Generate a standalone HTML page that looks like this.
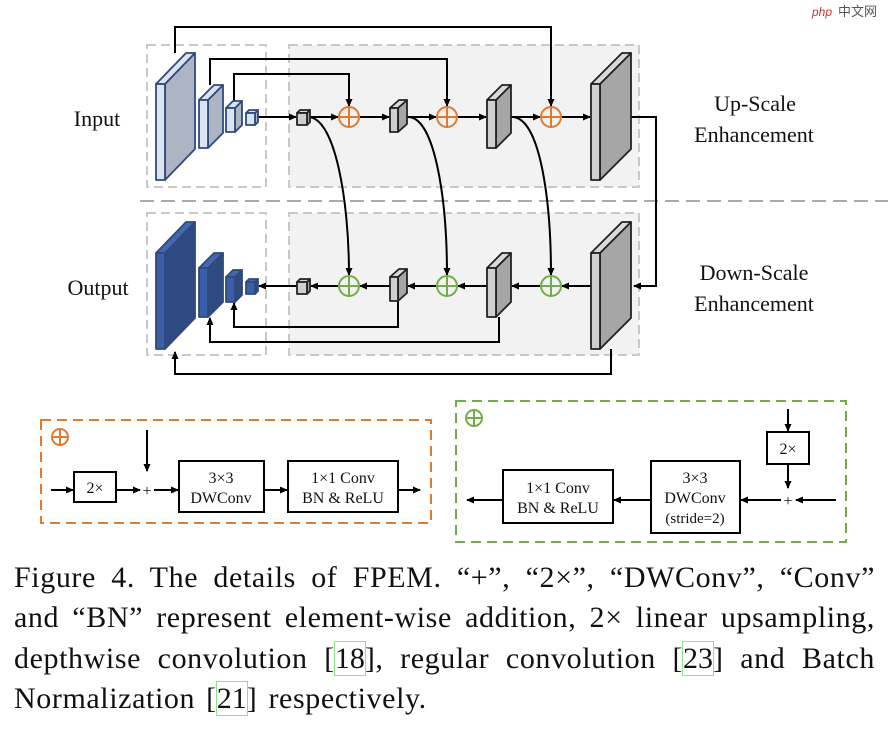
<!DOCTYPE html>
<html><head><meta charset="utf-8"><style>
body{margin:0;background:#fff;width:888px;height:730px;overflow:hidden;position:relative;font-family:"Liberation Serif",serif}
svg{position:absolute;left:0;top:0}
.cap{position:absolute;left:14px;width:861px;font-size:30px;letter-spacing:0.6px;word-spacing:3px;line-height:30px;color:#111;text-align:justify;text-align-last:justify;white-space:nowrap}
.c{outline:1px solid #8fe08f;letter-spacing:0}
</style></head><body>
<svg width="888" height="730" viewBox="0 0 888 730" font-family="Liberation Serif, serif">
<defs>
<marker id="a" markerWidth="8" markerHeight="8" refX="7" refY="4" orient="auto" markerUnits="userSpaceOnUse"><path d="M0,0.5 L8,4 L0,7.5z" fill="#000"/></marker>
</defs>
<rect x="147" y="45" width="119" height="142" fill="none" stroke="#c8c8c8" stroke-width="2" stroke-dasharray="9,5"/>
<rect x="289" y="45" width="350" height="142" fill="#f2f2f2" stroke="#c8c8c8" stroke-width="2" stroke-dasharray="9,5"/>
<rect x="147" y="213" width="119" height="142" fill="none" stroke="#c8c8c8" stroke-width="2" stroke-dasharray="9,5"/>
<rect x="289" y="213" width="350" height="142" fill="#f2f2f2" stroke="#c8c8c8" stroke-width="2" stroke-dasharray="9,5"/>
<line x1="140" y1="201" x2="888" y2="201" stroke="#aaa" stroke-width="2" stroke-dasharray="14,7"/>

<g stroke="#000" stroke-width="2" fill="none">
<polyline points="175,53 175,27 551,27 551,106" marker-end="url(#a)"/>
<polyline points="210,85 210,59 447,59 447,106" marker-end="url(#a)"/>
<polyline points="234,101 234,74 349,74 349,106" marker-end="url(#a)"/>
<line x1="258" y1="117" x2="296" y2="117" marker-end="url(#a)"/>
<line x1="308" y1="117" x2="338" y2="117" marker-end="url(#a)"/>
<line x1="360" y1="117" x2="389" y2="117" marker-end="url(#a)"/>
<line x1="407" y1="117" x2="436" y2="117" marker-end="url(#a)"/>
<line x1="458" y1="117" x2="486" y2="117" marker-end="url(#a)"/>
<line x1="511" y1="117" x2="540" y2="117" marker-end="url(#a)"/>
<line x1="562" y1="117" x2="590" y2="117" marker-end="url(#a)"/>
<polyline points="631,117 656,117 656,286 634,286" marker-end="url(#a)"/>
<path d="M308,117 C335,117 349,200 349,275" marker-end="url(#a)"/>
<path d="M408,117 C435,117 447,200 447,275" marker-end="url(#a)"/>
<path d="M512,117 C540,117 551,200 551,275" marker-end="url(#a)"/>
<line x1="591" y1="286" x2="562" y2="286" marker-end="url(#a)"/>
<line x1="540" y1="286" x2="512" y2="286" marker-end="url(#a)"/>
<line x1="487" y1="286" x2="458" y2="286" marker-end="url(#a)"/>
<line x1="436" y1="286" x2="408" y2="286" marker-end="url(#a)"/>
<line x1="390" y1="286" x2="360" y2="286" marker-end="url(#a)"/>
<line x1="338" y1="286" x2="311" y2="286" marker-end="url(#a)"/>
<line x1="297" y1="286" x2="259" y2="286" marker-end="url(#a)"/>
<polyline points="398,301 398,327 234,327 234,303" marker-end="url(#a)"/>
<polyline points="499,317 499,342 210,342 210,318" marker-end="url(#a)"/>
<polyline points="611,349 611,374 175,374 175,352" marker-end="url(#a)"/>
</g>

<g stroke-width="1.8" stroke-linejoin="round">
<g stroke="#2e4a7a">
<path d="M165,84 L195,53 L195,149 L165,180z" fill="#adb5c4"/><path d="M156,84 L186,53 L195,53 L165,84z" fill="#dbe3f1"/><rect x="156" y="84" width="9" height="96" fill="#dbe3f1"/>
<path d="M208,100 L223,85 L223,133 L208,148z" fill="#adb5c4"/><path d="M199,100 L214,85 L223,85 L208,100z" fill="#dbe3f1"/><rect x="199" y="100" width="9" height="48" fill="#dbe3f1"/>
<path d="M235,108 L242,101 L242,125 L235,132z" fill="#adb5c4"/><path d="M226,108 L233,101 L242,101 L235,108z" fill="#dbe3f1"/><rect x="226" y="108" width="9" height="24" fill="#dbe3f1"/>
<path d="M255,113 L258,110 L258,122 L255,125z" fill="#adb5c4"/><path d="M246,113 L249,110 L258,110 L255,113z" fill="#dbe3f1"/><rect x="246" y="113" width="9" height="12" fill="#dbe3f1"/>
</g>
<g stroke="#2e4a7a">
<path d="M165,253 L195,222 L195,318 L165,349z" fill="#2f4a82"/><path d="M156,253 L186,222 L195,222 L165,253z" fill="#4566b0"/><rect x="156" y="253" width="9" height="96" fill="#3c5ea8"/>
<path d="M208,268 L223,253 L223,302 L208,317z" fill="#2f4a82"/><path d="M199,268 L214,253 L223,253 L208,268z" fill="#4566b0"/><rect x="199" y="268" width="9" height="49" fill="#3c5ea8"/>
<path d="M235,277 L242,270 L242,295 L235,302z" fill="#2f4a82"/><path d="M226,277 L233,270 L242,270 L235,277z" fill="#4566b0"/><rect x="226" y="277" width="9" height="25" fill="#3c5ea8"/>
<path d="M255,282 L258,279 L258,291 L255,294z" fill="#2f4a82"/><path d="M246,282 L249,279 L258,279 L255,282z" fill="#4566b0"/><rect x="246" y="282" width="9" height="12" fill="#3c5ea8"/>
</g>
<g stroke="#222">
<path d="M307,113 L310,110 L310,122 L307,125z" fill="#a6a6a6"/><path d="M297,113 L300,110 L310,110 L307,113z" fill="#d9d9d9"/><rect x="297" y="113" width="10" height="12" fill="#cfcfcf"/>
<path d="M398,108 L407,100 L407,124 L398,132z" fill="#a6a6a6"/><path d="M390,108 L399,100 L407,100 L398,108z" fill="#d9d9d9"/><rect x="390" y="108" width="8" height="24" fill="#cfcfcf"/>
<path d="M496,100 L511,85 L511,133 L496,148z" fill="#a6a6a6"/><path d="M487,100 L502,85 L511,85 L496,100z" fill="#d9d9d9"/><rect x="487" y="100" width="9" height="48" fill="#cfcfcf"/>
<path d="M600,84 L631,53 L631,149 L600,180z" fill="#a6a6a6"/><path d="M591,84 L622,53 L631,53 L600,84z" fill="#d9d9d9"/><rect x="591" y="84" width="9" height="96" fill="#cfcfcf"/>
<path d="M307,282 L310,279 L310,291 L307,294z" fill="#a6a6a6"/><path d="M297,282 L300,279 L310,279 L307,282z" fill="#d9d9d9"/><rect x="297" y="282" width="10" height="12" fill="#cfcfcf"/>
<path d="M398,277 L407,269 L407,293 L398,301z" fill="#a6a6a6"/><path d="M390,277 L399,269 L407,269 L398,277z" fill="#d9d9d9"/><rect x="390" y="277" width="8" height="24" fill="#cfcfcf"/>
<path d="M496,268 L511,253 L511,302 L496,317z" fill="#a6a6a6"/><path d="M487,268 L502,253 L511,253 L496,268z" fill="#d9d9d9"/><rect x="487" y="268" width="9" height="49" fill="#cfcfcf"/>
<path d="M600,253 L631,222 L631,318 L600,349z" fill="#a6a6a6"/><path d="M591,253 L622,222 L631,222 L600,253z" fill="#d9d9d9"/><rect x="591" y="253" width="9" height="96" fill="#cfcfcf"/>
</g>
</g>
<g fill="none" stroke-width="2">
<g stroke="#e07a30">
<circle cx="349" cy="117" r="10"/><path d="M339,117h20M349,107v20"/>
<circle cx="447" cy="117" r="10"/><path d="M437,117h20M447,107v20"/>
<circle cx="551" cy="117" r="10"/><path d="M541,117h20M551,107v20"/>
</g>
<g stroke="#70ad47">
<circle cx="349" cy="286" r="10"/><path d="M339,286h20M349,276v20"/>
<circle cx="447" cy="286" r="10"/><path d="M437,286h20M447,276v20"/>
<circle cx="551" cy="286" r="10"/><path d="M541,286h20M551,276v20"/>
</g>
</g>
<g font-size="22" fill="#111" text-anchor="middle">
<text x="97" y="126">Input</text>
<text x="98" y="295">Output</text>
<text x="755" y="111">Up-Scale</text>
<text x="754" y="142">Enhancement</text>
<text x="754" y="280">Down-Scale</text>
<text x="754" y="311">Enhancement</text>
</g>

<rect x="41" y="420" width="390" height="103" fill="none" stroke="#e07a30" stroke-width="2" stroke-dasharray="10,6"/>
<g fill="none" stroke="#e07a30" stroke-width="2"><circle cx="60" cy="437" r="8"/><path d="M52,437h16M60,429v16"/></g>
<g stroke="#000" stroke-width="2" fill="none">
<line x1="51" y1="490" x2="73" y2="490" marker-end="url(#a)"/>
<rect x="74" y="472" width="42" height="30" fill="#fff"/>
<line x1="116" y1="490" x2="140" y2="490" marker-end="url(#a)"/>
<line x1="147" y1="430" x2="147" y2="471" marker-end="url(#a)"/>
<line x1="154" y1="490" x2="178" y2="490" marker-end="url(#a)"/>
<rect x="179" y="461" width="85" height="51" fill="#fff"/>
<line x1="264" y1="490" x2="287" y2="490" marker-end="url(#a)"/>
<rect x="288" y="461" width="110" height="51" fill="#fff"/>
<line x1="398" y1="490" x2="420" y2="490" marker-end="url(#a)"/>
</g>
<g font-size="16" fill="#111" text-anchor="middle">
<text x="95" y="493">2×</text>
<text x="147" y="496">+</text>
<text x="221" y="483">3×3</text><text x="221" y="503">DWConv</text>
<text x="343" y="483">1×1 Conv</text><text x="343" y="503">BN &amp; ReLU</text>
</g>

<rect x="456" y="401" width="390" height="141" fill="none" stroke="#70ad47" stroke-width="2" stroke-dasharray="10,6"/>
<g fill="none" stroke="#70ad47" stroke-width="2"><circle cx="474" cy="418" r="8"/><path d="M466,418h16M474,410v16"/></g>
<g stroke="#000" stroke-width="2" fill="none">
<line x1="788" y1="409" x2="788" y2="431" marker-end="url(#a)"/>
<rect x="767" y="432" width="42" height="32" fill="#fff"/>
<line x1="788" y1="464" x2="788" y2="488" marker-end="url(#a)"/>
<line x1="836" y1="500" x2="796" y2="500" marker-end="url(#a)"/>
<line x1="781" y1="500" x2="741" y2="500" marker-end="url(#a)"/>
<rect x="651" y="461" width="89" height="72" fill="#fff"/>
<line x1="651" y1="500" x2="614" y2="500" marker-end="url(#a)"/>
<rect x="503" y="470" width="110" height="53" fill="#fff"/>
<line x1="503" y1="500" x2="467" y2="500" marker-end="url(#a)"/>
</g>
<g font-size="16" fill="#111" text-anchor="middle">
<text x="788" y="454">2×</text>
<text x="788" y="506">+</text>
<text x="695" y="483">3×3</text><text x="695" y="503">DWConv</text><text x="695" y="523" font-size="15">(stride=2)</text>
<text x="558" y="493">1×1 Conv</text><text x="558" y="513">BN &amp; ReLU</text>
</g>
<text x="812" y="16" font-family="Liberation Sans, sans-serif" font-size="12" fill="#c33" font-style="italic">php</text>
<text x="838" y="16" font-family="Noto Sans CJK SC, sans-serif" font-size="13" fill="#555">中文网</text>
</svg>
<div class="cap" style="top:563px">Figure 4. The details of FPEM. “+”, “2×”, “DWConv”, “Conv”</div>
<div class="cap" style="top:603px">and “BN” represent element-wise addition, 2× linear upsampling,</div>
<div class="cap" style="top:644px">depthwise convolution [<span class="c">18</span>], regular convolution [<span class="c">23</span>] and Batch</div>
<div class="cap" style="top:684px;text-align-last:left">Normalization [<span class="c">21</span>] respectively.</div>
</body></html>
